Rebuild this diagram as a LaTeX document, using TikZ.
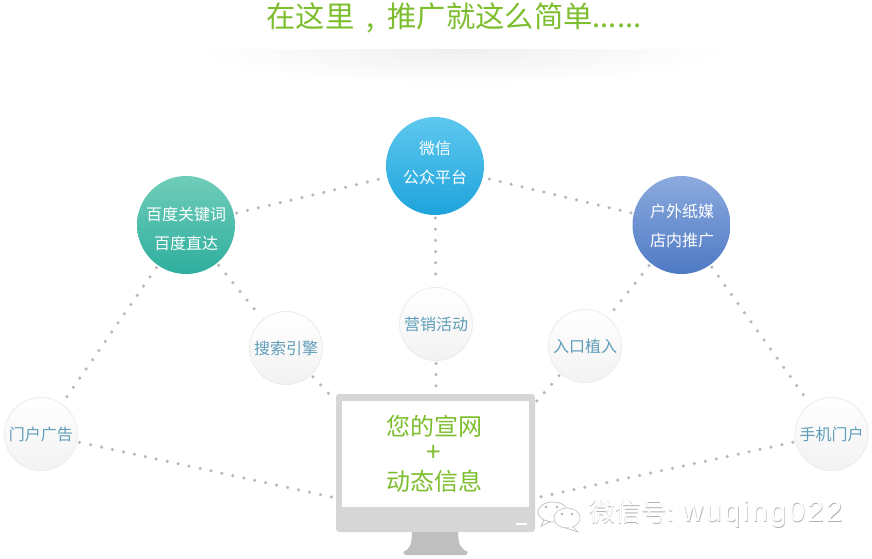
\documentclass[tikz,border=0pt]{standalone}
\usepackage{fontspec}
\setmainfont{Noto Sans CJK SC}
\setsansfont{Noto Sans CJK SC}
\newfontfamily\latinwm[LetterSpace=8.6]{Liberation Sans}
\definecolor{titlegreen}{HTML}{7DBE2E}
\definecolor{dotgray}{HTML}{B8B8B8}
\definecolor{smalltext}{HTML}{5F9DB8}
\definecolor{monitorgray}{HTML}{D6D6D6}
\definecolor{standgray}{HTML}{BFBFBF}
\tikzset{
  bigcirc/.style={circle,minimum size=98pt,inner sep=0pt,outer sep=3pt},
  bigtext/.style={inner sep=0pt,text=white,align=center,font=\fontsize{16}{29}\selectfont},
  smallcirc/.style={circle,minimum size=73pt,inner sep=0pt,outer sep=3pt,draw=black!8,line width=0.8pt,
    top color=white,bottom color=black!5,text=smalltext,font=\fontsize{16}{20}\selectfont},
  dotline/.style={draw=dotgray,line width=3.5pt,line cap=round,dash pattern=on 0pt off 11.2pt},
  wmtext/.style={inner sep=0pt,anchor=west,font=\fontsize{26}{30}\selectfont},
  screentext/.style={inner sep=0pt,text=titlegreen,font=\fontsize{24}{24}\selectfont}
}
\begin{document}
\begin{tikzpicture}[x=1pt,y=-1pt]
\useasboundingbox (0,0) rectangle (872,559);
\fill[white] (0,0) rectangle (872,559);
% title shadow
\begin{scope}
\clip (180,50) rectangle (740,90);
\shade[inner color=black!6,outer color=white] (460,50) ellipse [x radius=265,y radius=34];
\end{scope}
\node[inner sep=0pt,text=titlegreen,font=\fontsize{29.3}{34}\selectfont] (title) at (454,18) {在这里\kern12pt,\kern13pt 推广就这么简单......};
% circles
\node[bigcirc,top color={rgb,255:red,94;green,200;blue,238},bottom color={rgb,255:red,30;green,163;blue,220}] (wechat) at (435,166) {};
\node[bigtext] (wechattext) at (435,163) {微信\\公众平台};
\node[bigcirc,top color={rgb,255:red,112;green,205;blue,185},bottom color={rgb,255:red,46;green,174;blue,158}] (baidu) at (186,225) {};
\node[bigtext] (baidutext) at (186,229) {百度关键词\\百度直达};
\node[bigcirc,top color={rgb,255:red,140;green,170;blue,222},bottom color={rgb,255:red,78;green,122;blue,196}] (outdoor) at (681.5,225) {};
\node[bigtext] (outdoortext) at (682,225.5) {户外纸媒\\店内推广};
\node[smallcirc] (portal) at (41,434) {门户广告};
\node[smallcirc] (search) at (286,348) {搜索引擎};
\node[smallcirc] (market) at (436,324) {营销活动};
\node[smallcirc] (entry) at (585,346) {入口植入};
\node[smallcirc] (mobile) at (831.5,434) {手机门户};
% monitor
\fill[standgray] (412,531) .. controls (412,545) and (410,549) .. (403,552) -- (405,555) -- (466,555) -- (468,552)
  .. controls (461,549) and (458,545) .. (458,531) -- cycle;
\node[fill=monitorgray,rounded corners=3pt,minimum width=199pt,minimum height=138pt,inner sep=0pt] (monitor) at (435.5,463) {};
\node[fill=white,minimum width=187pt,minimum height=106pt,inner sep=0pt] (screen) at (435.5,453.5) {};
\node[screentext] (line1) at (434,426) {您的宣网};
\node[screentext,font=\fontsize{26}{26}\selectfont] (plus) at (434,453) {+};
\node[screentext] (line3) at (434,481) {动态信息};
\node[fill=white,minimum width=11pt,minimum height=2.5pt,inner sep=0pt] (button) at (521.5,524) {};
\coordinate (monTL) at (332,397);
\coordinate (monT) at (436,393);
\coordinate (monTR) at (536,402);
\coordinate (monL) at (336,498);
\coordinate (monR) at (535,498);
% connectors
\draw[dotline] (baidu) -- (wechat);
\draw[dotline] (outdoor) -- (wechat);
\draw[dotline] (wechat) -- (market);
\draw[dotline] (market) -- (monT);
\draw[dotline] (baidu) -- (portal);
\draw[dotline] (baidu) -- (search);
\draw[dotline] (search) -- (monTL);
\draw[dotline] (outdoor) -- (entry);
\draw[dotline] (entry) -- (monTR);
\draw[dotline] (outdoor) -- (mobile);
\draw[dotline] (portal) -- (monL);
\draw[dotline] (mobile) -- (monR);
% watermark logo
\begin{scope}[draw=black!25,fill=white,line width=0.7pt]
\filldraw (553,512) ellipse [x radius=15,y radius=10];
\filldraw (544,520) -- (541,526) -- (550,522) -- cycle;
\filldraw (567,518) ellipse [x radius=13,y radius=10];
\filldraw (572,526) -- (578,532) -- (566,528) -- cycle;
\fill[white] (567,518) ellipse [x radius=12.5,y radius=9.5];
\fill[black!30] (546,507) circle (1.3) (557,507) circle (1.3) (562,514) circle (1.3) (572,514) circle (1.3);
\end{scope}
% watermark text
\node[wmtext,text=black!30] (wmshadow) at (589.6,514.6) {微信号: {\fontsize{29}{30}\selectfont\latinwm wuqing022}};
\node[wmtext,text=white] (wmfront) at (589,514) {微信号: {\fontsize{29}{30}\selectfont\latinwm wuqing022}};
\end{tikzpicture}
\end{document}
